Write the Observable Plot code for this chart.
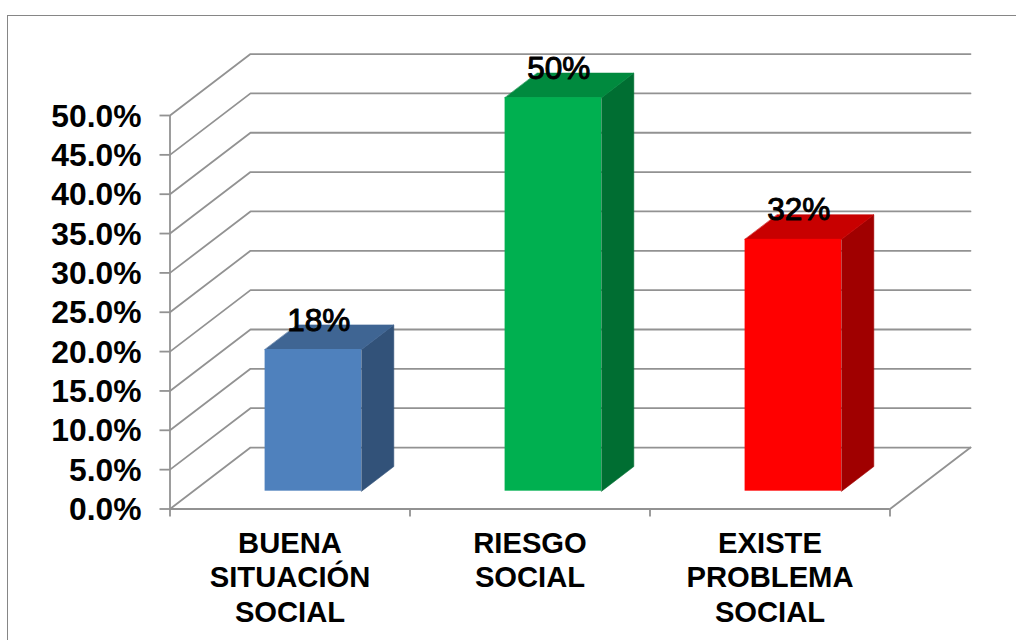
<!DOCTYPE html>
<html lang="es">
<head>
<meta charset="utf-8">
<script src="https://cdn.jsdelivr.net/npm/d3@7"></script>
<script src="https://cdn.jsdelivr.net/npm/@observablehq/plot@0.6"></script>
<style>
  html, body { margin: 0; padding: 0; background: #fff; }
  #chart { position: relative; width: 1016px; height: 640px; overflow: hidden; }
  #chart svg { display: block; }
  #edge { position: absolute; left: 7px; top: 15px; right: -4px; bottom: -4px;
          border-left: 1.4px solid #868686; border-top: 1.4px solid #868686; pointer-events: none; }
</style>
</head>
<body>
<div id="chart"><div id="edge"></div></div>
<script>
const categories = ["BUENA\nSITUACIÓN\nSOCIAL", "RIESGO\nSOCIAL", "EXISTE\nPROBLEMA\nSOCIAL"];
const values = [18, 50, 32];
const valueLabels = ["18%", "50%", "32%"];
const yTicks = [0, 5, 10, 15, 20, 25, 30, 35, 40, 45, 50];
const frontColors = ["#4f81bd", "#00b050", "#ff0000"];
const topColors = ["#3f6593", "#008a3e", "#c80000"];
const sideColors = ["#325279", "#006e32", "#a00000"];

// Oblique projection: depth is expressed in the units of the two scales.
const GRID = "#929292";
const DEPTH_X = 0.3354, DEPTH_Y = 7.81;
const BAR_WIDTH = 0.402, BAR_NEAR = 0.29, BAR_FAR = 0.69;
const nCat = categories.length;
const P = (x, y, d) => ({x: x + d * DEPTH_X, y: y + d * DEPTH_Y});

const gridPaths = yTicks.flatMap((t) =>
  [P(0, t, 0), P(0, t, 1), P(nCat, t, 1)].map((p) => ({...p, t})));
const floorEdge = [P(nCat, 0, 1), P(nCat, 0, 0)];

const bars = categories.map((c, i) => {
  const x1 = i + 0.5 - BAR_WIDTH / 2, x2 = i + 0.5 + BAR_WIDTH / 2, v = values[i];
  return {i, x1, x2, v,
    front: {x1: x1 + BAR_NEAR * DEPTH_X, x2: x2 + BAR_NEAR * DEPTH_X,
            y1: BAR_NEAR * DEPTH_Y, y2: v + BAR_NEAR * DEPTH_Y},
    top: [P(x1, v, BAR_NEAR), P(x2, v, BAR_NEAR), P(x2, v, BAR_FAR), P(x1, v, BAR_FAR)],
    side: [P(x2, 0, BAR_NEAR), P(x2, 0, BAR_FAR), P(x2, v, BAR_FAR), P(x2, v, BAR_NEAR)]
  };
});
const face = (key, colors) => bars.map((b) =>
  Plot.line(b[key], {x: "x", y: "y", fill: colors[b.i], stroke: colors[b.i], strokeWidth: 0.6, curve: "linear-closed"}));

const plot = Plot.plot({
  width: 1016, height: 640,
  marginLeft: 169.5, marginRight: 126.5, marginTop: 115, marginBottom: 131.5,
  x: {domain: [0, nCat]},
  y: {domain: [0, 50]},
  style: {fontFamily: "'Liberation Sans', Arial, sans-serif", fontWeight: "bold", background: "transparent", color: "#000"},
  marks: [
    Plot.line(gridPaths, {x: "x", y: "y", z: "t", stroke: GRID, strokeWidth: 1.8}),
    Plot.line(floorEdge, {x: "x", y: "y", stroke: GRID, strokeWidth: 1.8}),
    Plot.ruleX([0], {y1: 0, y2: 50, stroke: GRID, strokeWidth: 1.8}),
    Plot.ruleY([0], {x1: 0, x2: nCat, stroke: GRID, strokeWidth: 1.8}),
    Plot.axisY({ticks: yTicks, tickSize: 10, stroke: GRID, strokeWidth: 1.8, tickFormat: () => "", label: null}),
    Plot.axisX({ticks: [0, 1, 2, 3], tickSize: 8, stroke: GRID, strokeWidth: 1.8, tickFormat: () => "", label: null}),
    Plot.text(yTicks, {x: () => 0, y: (d) => d, text: (d) => d.toFixed(1) + "%", textAnchor: "end",
      dx: -28.5, dy: 1, fontSize: 31.8, fill: "#000"}),
    ...face("side", sideColors),
    ...face("top", topColors),
    ...bars.map((b) => Plot.rect([b.front], {x1: "x1", x2: "x2", y1: "y1", y2: "y2", fill: frontColors[b.i]})),
    Plot.text(bars, {x: (b) => (b.x1 + b.x2) / 2 + BAR_NEAR * DEPTH_X, y: (b) => b.v + BAR_NEAR * DEPTH_Y,
      text: (b) => valueLabels[b.i], dx: 5.5, dy: -29, fontSize: 31.5, fontWeight: "normal", fill: "#000", stroke: "#000", strokeWidth: 1}),
    Plot.text(categories, {x: (c, i) => i + 0.5, y: () => 0, text: (c) => c, lineAnchor: "top", dy: 20,
      lineHeight: 1.17, fontSize: 29.2, fill: "#000"})
  ]
});
document.getElementById("chart").prepend(plot);
</script>
</body>
</html>
